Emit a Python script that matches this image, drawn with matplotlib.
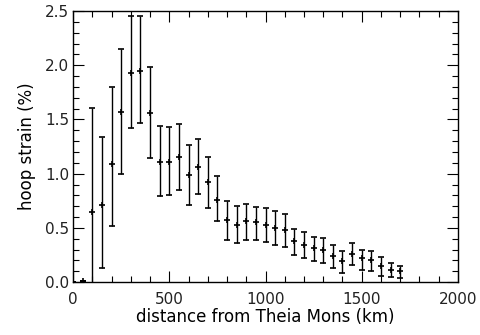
import matplotlib
matplotlib.use("Agg")
import matplotlib.pyplot as plt
from matplotlib.ticker import MultipleLocator

# distance from Theia Mons (km)
distance = [0, 50, 100, 150, 200, 250, 300, 350, 400, 450, 500, 550, 600, 650,
            700, 750, 800, 850, 900, 950, 1000, 1050, 1100, 1150, 1200, 1250,
            1300, 1350, 1400, 1450, 1500, 1550, 1600, 1650, 1700]
# hoop strain (%)
strain = [0.0, 0.01, 0.65, 0.71, 1.09, 1.57, 1.93, 1.95, 1.56, 1.11, 1.11, 1.15,
          0.99, 1.06, 0.92, 0.76, 0.57, 0.53, 0.56, 0.55, 0.53, 0.50, 0.48, 0.38,
          0.34, 0.31, 0.30, 0.24, 0.19, 0.26, 0.22, 0.20, 0.15, 0.11, 0.10]
upper = [0.0, 0.01, 1.61, 1.34, 1.80, 2.15, 2.45, 2.45, 1.98, 1.44, 1.43, 1.46,
         1.26, 1.32, 1.15, 0.98, 0.75, 0.70, 0.72, 0.69, 0.68, 0.66, 0.63, 0.49,
         0.46, 0.42, 0.41, 0.34, 0.29, 0.36, 0.30, 0.29, 0.23, 0.18, 0.15]
lower = [0.0, 0.01, -0.31, 0.13, 0.52, 1.00, 1.42, 1.47, 1.14, 0.79, 0.80, 0.85,
         0.71, 0.81, 0.68, 0.56, 0.39, 0.36, 0.39, 0.39, 0.37, 0.34, 0.32, 0.25,
         0.22, 0.19, 0.18, 0.13, 0.08, 0.16, 0.11, 0.10, 0.06, 0.05, 0.04]

err_lo = [s - l for s, l in zip(strain, lower)]
err_hi = [u - s for s, u in zip(strain, upper)]

plt.rcParams['font.family'] = 'DejaVu Sans'
plt.rcParams['font.size'] = 11
plt.rcParams['text.color'] = '#222222'
plt.rcParams['xtick.labelcolor'] = '#222222'
plt.rcParams['ytick.labelcolor'] = '#222222'

fig = plt.figure(figsize=(4.81, 3.35), dpi=100)
ax = fig.add_axes([0.152, 0.158, 0.800, 0.809])

ax.errorbar(distance, strain, yerr=[err_lo, err_hi], fmt='+', color='black',
            markersize=5, elinewidth=1, capsize=2, capthick=1, mew=1.2)

ax.set_xlim(0, 2000)
ax.set_ylim(0, 2.5)
ax.xaxis.set_major_locator(MultipleLocator(500))
ax.xaxis.set_minor_locator(MultipleLocator(100))
ax.yaxis.set_major_locator(MultipleLocator(0.5))
ax.yaxis.set_minor_locator(MultipleLocator(0.1))
ax.yaxis.set_major_formatter(plt.FormatStrFormatter('%.1f'))

ax.tick_params(which='both', direction='in', top=True, right=True, width=0.8)
ax.tick_params(which='major', length=8)
ax.tick_params(which='minor', length=4)
ax.tick_params(axis='x', which='major', pad=7)
ax.tick_params(axis='y', which='major', pad=3)
for sp in ax.spines.values():
    sp.set_linewidth(1)

ax.set_xlabel('distance from Theia Mons (km)', fontsize=12, labelpad=1)
ax.set_ylabel('hoop strain (%)', fontsize=12, labelpad=6)

fig.savefig('out.png', dpi=100)
